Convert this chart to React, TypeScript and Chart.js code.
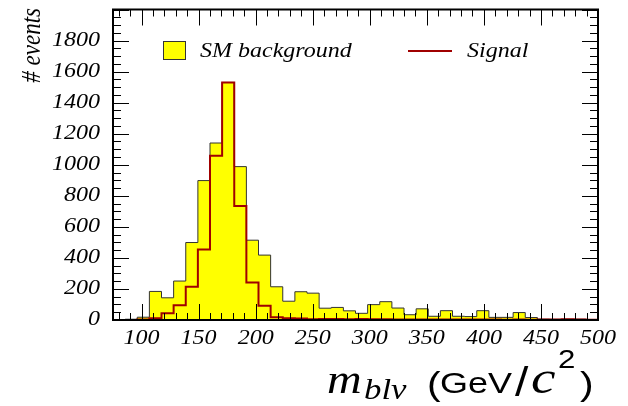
import React, { useEffect, useRef } from "react";
import { Chart, registerables } from "chart.js";

Chart.register(...registerables);

// Histogram definition: 40 bins from 75 to 500 GeV/c^2
const binLow = 75;
const binHigh = 500;

// SM background (yellow filled histogram), events per bin
const background = [
  0, 5, 18, 184, 143, 251, 499, 898, 1140, 1530,
  988, 514, 418, 214, 121, 182, 173, 76, 81, 59,
  43, 99, 118, 77, 34, 72, 24, 60, 24, 22,
  60, 17, 17, 48, 16, 5, 4, 5, 5, 3,
];

// Signal (dark red outline histogram), events per bin
const signal = [
  0, 0, 3, 12, 43, 95, 214, 454, 1058, 1530,
  735, 242, 92, 18, 12, 10, 5, 7, 6, 5,
  6, 5, 5, 4, 4, 4, 3, 4, 3, 3,
  3, 3, 2, 3, 2, 3, 4, 5, 4, 2,
];

const xTickLabels = [100, 150, 200, 250, 300, 350, 400, 450, 500];
const yTickLabels = [0, 200, 400, 600, 800, 1000, 1200, 1400, 1600, 1800];
const xMinorStep = 10;
const yMinorStep = 50;
const yMajorStep = 200;
const yMax = 2000;

const legendLabels = ["SM background", "Signal"];

const SERIF = "\"Liberation Serif\", serif";
const SANS = "\"Liberation Sans\", sans-serif";
const STRETCH = 1.2;

function histPoints(vals: number[]) {
  const w = (binHigh - binLow) / vals.length;
  const pts = vals.map((v, i) => ({ x: binLow + i * w, y: v }));
  pts.push({ x: binHigh, y: vals[vals.length - 1] });
  pts.push({ x: binHigh, y: 0 });
  return pts;
}

function txt(
  ctx: CanvasRenderingContext2D,
  s: string,
  x: number,
  y: number,
  font: string,
  align: CanvasTextAlign,
  baseline: CanvasTextBaseline,
  rotate = 0
) {
  ctx.save();
  ctx.translate(x, y);
  ctx.scale(STRETCH, 1);
  if (rotate) ctx.rotate(rotate);
  ctx.font = font;
  ctx.textAlign = align;
  ctx.textBaseline = baseline;
  ctx.fillStyle = "#000";
  ctx.fillText(s, 0, 0);
  ctx.restore();
}

const rootFrame = {
  id: "rootFrame",
  afterDraw(chart: any) {
    const { ctx, chartArea: a, scales } = chart;
    const xs = scales.x;
    const ys = scales.y;
    ctx.save();
    ctx.strokeStyle = "#000";
    ctx.lineWidth = 1;
    const line = (x1: number, y1: number, x2: number, y2: number) => {
      ctx.beginPath();
      ctx.moveTo(x1, y1);
      ctx.lineTo(x2, y2);
      ctx.stroke();
    };
    // x ticks (bottom and top)
    const firstMinorX = Math.ceil(binLow / xMinorStep) * xMinorStep;
    for (let v = firstMinorX; v <= binHigh; v += xMinorStep) {
      const major = v % 50 === 0;
      const len = major ? 16 : 7;
      const px = Math.round(xs.getPixelForValue(v)) + 0.5;
      line(px, a.bottom, px, a.bottom - len);
      line(px, a.top, px, a.top + len);
    }
    // y ticks (left and right)
    for (let v = 0; v <= yMax; v += yMinorStep) {
      const major = v % yMajorStep === 0;
      const len = major ? 16 : 8;
      const py = Math.round(ys.getPixelForValue(v)) + 0.5;
      line(a.left, py, a.left + len, py);
      line(a.right, py, a.right - len, py);
    }
    // frame
    ctx.lineWidth = 2;
    ctx.strokeRect(a.left, a.top, a.right - a.left, a.bottom - a.top);

    // tick labels
    const lblFont = `italic 20px ${SERIF}`;
    xTickLabels.forEach((v) => {
      txt(ctx, String(v), xs.getPixelForValue(v), a.bottom + 19, lblFont, "center", "middle");
    });
    yTickLabels.forEach((v) => {
      txt(ctx, String(v), a.left - 13, ys.getPixelForValue(v), lblFont, "right", "middle");
    });

    // y title
    txt(ctx, "# events", 40, 8, `italic 23px ${SERIF}`, "right", "alphabetic", -Math.PI / 2);

    // x title: m_{blν} (GeV/c^2)
    const base = 393;
    txt(ctx, "m", 327, base, `italic 40px ${SERIF}`, "left", "alphabetic");
    txt(ctx, "blν", 364, base + 6, `italic 29px ${SERIF}`, "left", "alphabetic");
    txt(ctx, "(", 427, base + 2, `34px ${SANS}`, "left", "alphabetic");
    txt(ctx, "GeV", 440, base, `30px ${SANS}`, "left", "alphabetic");
    txt(ctx, "/", 515, base + 3, `40px ${SANS}`, "left", "alphabetic");
    txt(ctx, "c", 531, base, `italic 46px ${SERIF}`, "left", "alphabetic");
    txt(ctx, "2", 558, base - 25, `26px ${SANS}`, "left", "alphabetic");
    txt(ctx, ")", 580, base + 2, `34px ${SANS}`, "left", "alphabetic");

    // legend
    ctx.fillStyle = "#ffff00";
    ctx.fillRect(163.5, 41, 22, 18);
    ctx.strokeStyle = "#333";
    ctx.lineWidth = 1;
    ctx.strokeRect(163.5, 41.5, 22, 18);
    txt(ctx, legendLabels[0], 200, 57, `italic 20px ${SERIF}`, "left", "alphabetic");
    ctx.strokeStyle = "#a00000";
    ctx.lineWidth = 2;
    line(408, 51, 452, 51);
    txt(ctx, legendLabels[1], 467, 57, `italic 20px ${SERIF}`, "left", "alphabetic");
    ctx.restore();
  },
};

export default function App() {
  const ref = useRef<HTMLCanvasElement | null>(null);
  useEffect(() => {
    if (!ref.current) return;
    const chart = new Chart(ref.current, {
      type: "line",
      data: {
        datasets: [
          {
            label: legendLabels[1],
            data: histPoints(signal),
            stepped: "before",
            borderColor: "#a00000",
            borderWidth: 2,
            pointRadius: 0,
            fill: false,
            order: 0,
          },
          {
            label: legendLabels[0],
            data: histPoints(background),
            stepped: "before",
            borderColor: "#333333",
            borderWidth: 1,
            backgroundColor: "#ffff00",
            pointRadius: 0,
            fill: "origin",
            order: 1,
          },
        ],
      } as any,
      options: {
        animation: false,
        responsive: false,
        maintainAspectRatio: false,
        layout: { padding: { left: 113, right: 30, top: 9.5, bottom: 86 } },
        scales: {
          x: { type: "linear", min: binLow, max: binHigh, display: false },
          y: { type: "linear", min: 0, max: yMax, display: false },
        },
        plugins: {
          legend: { display: false },
          tooltip: { enabled: false },
        },
        events: [],
      },
      plugins: [rootFrame],
    });
    return () => chart.destroy();
  }, []);
  return (
    <div style={{ position: "absolute", left: 0, top: 0, width: 628, height: 406, background: "#fff" }}>
      <canvas ref={ref} width={628} height={406} style={{ width: 628, height: 406 }} />
    </div>
  );
}
